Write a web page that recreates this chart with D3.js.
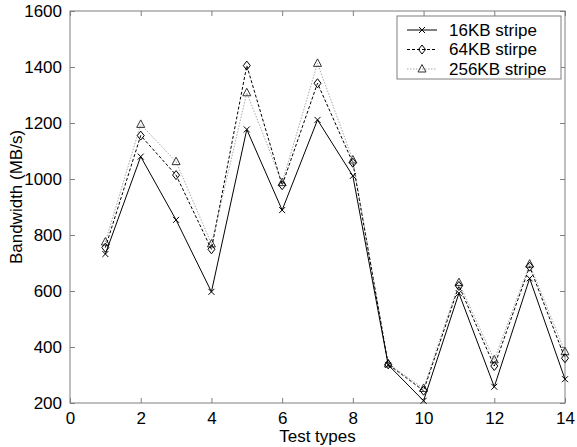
<!DOCTYPE html>
<html>
<head>
<meta charset="utf-8">
<script src="https://cdn.jsdelivr.net/npm/d3@7"></script>
<style>
  body { margin: 0; background: #fff; }
  svg { font-family: "Liberation Sans", Arial, sans-serif; }
</style>
</head>
<body>
<div id="chart"></div>
<script>
// values
const testTypes = [1, 2, 3, 4, 5, 6, 7, 8, 9, 10, 11, 12, 13, 14];
const stripe16 = [732, 1080, 854, 597, 1177, 889, 1211, 1011, 336, 208, 592, 258, 645, 285];
const stripe64 = [755, 1155, 1014, 749, 1405, 978, 1342, 1058, 338, 244, 618, 332, 687, 360];
const stripe256 = [775, 1195, 1062, 768, 1308, 987, 1413, 1068, 340, 252, 630, 354, 696, 383];
const seriesNames = ["16KB stripe", "64KB stirpe", "256KB stripe"];
const xTicks = [0, 2, 4, 6, 8, 10, 12, 14];
const yTicks = [200, 400, 600, 800, 1000, 1200, 1400, 1600];

const config = { width: 577, height: 447, left: 70, right: 565, top: 11, bottom: 403 };
const axisColor = "#7f7f7f";

const svg = d3.select("#chart").append("svg")
    .attr("width", config.width)
    .attr("height", config.height);

const x = d3.scaleLinear().domain([0, 14]).range([config.left, config.right]);
const y = d3.scaleLinear().domain([200, 1600]).range([config.bottom, config.top]);

// box
svg.append("rect")
    .attr("x", config.left).attr("y", config.top)
    .attr("width", config.right - config.left)
    .attr("height", config.bottom - config.top)
    .attr("fill", "none").attr("stroke", axisColor);

// axes, ticks pointing inside like matlab
function styleAxis(g, showText) {
    g.select(".domain").remove();
    g.selectAll(".tick line").attr("stroke", axisColor);
    g.selectAll(".tick text").attr("fill", "#000").style("font-size", "17px");
    if (!showText) g.selectAll(".tick text").remove();
}

svg.append("g").attr("transform", `translate(0,${config.bottom})`)
    .call(d3.axisBottom(x).tickValues(xTicks).tickFormat(d3.format("d")).tickSizeInner(-5).tickSizeOuter(0).tickPadding(9))
    .call(g => styleAxis(g, true));
svg.append("g").attr("transform", `translate(0,${config.top})`)
    .call(d3.axisTop(x).tickValues(xTicks).tickSizeInner(-5).tickSizeOuter(0))
    .call(g => styleAxis(g, false));
svg.append("g").attr("transform", `translate(${config.left},0)`)
    .call(d3.axisLeft(y).tickValues(yTicks).tickFormat(d3.format("d")).tickSizeInner(-5).tickSizeOuter(0).tickPadding(8))
    .call(g => styleAxis(g, true));
svg.append("g").attr("transform", `translate(${config.right},0)`)
    .call(d3.axisRight(y).tickValues(yTicks).tickSizeInner(-5).tickSizeOuter(0))
    .call(g => styleAxis(g, false));

// axis titles
svg.append("text")
    .attr("x", (config.left + config.right) / 2)
    .attr("y", 442)
    .attr("text-anchor", "middle")
    .style("font-size", "17px")
    .text("Test types");

svg.append("text")
    .attr("transform", "translate(22,197) rotate(-90)")
    .attr("text-anchor", "middle")
    .style("font-size", "17px")
    .text("Bandwidth (MB/s)");

// series styles
const series = [
    { name: seriesNames[0], values: stripe16, stroke: "#000", dash: null, marker: "x", mColor: "#000" },
    { name: seriesNames[1], values: stripe64, stroke: "#000", dash: "3,2", marker: "diamond", mColor: "#000" },
    { name: seriesNames[2], values: stripe256, stroke: "#a8a8a8", dash: "1.5,1.5", marker: "triangle", mColor: "#333" }
];

function drawMarker(g, type, cx, cy, color) {
    if (type === "x") {
        g.append("path")
            .attr("d", `M${cx-3},${cy-3}L${cx+3},${cy+3}M${cx-3},${cy+3}L${cx+3},${cy-3}`)
            .attr("stroke", color).attr("stroke-width", 1).attr("fill", "none");
    } else if (type === "diamond") {
        g.append("path")
            .attr("d", `M${cx},${cy-4.5}L${cx+3.5},${cy}L${cx},${cy+4.5}L${cx-3.5},${cy}Z`)
            .attr("stroke", color).attr("stroke-width", 1).attr("fill", "none");
    } else {
        g.append("path")
            .attr("d", `M${cx},${cy-4.5}L${cx+4},${cy+3}L${cx-4},${cy+3}Z`)
            .attr("stroke", color).attr("stroke-width", 1).attr("fill", "none");
    }
}

const line = d3.line()
    .x((d, i) => x(testTypes[i]))
    .y(d => y(d));

// draw back to front
series.slice().reverse().forEach(s => {
    const g = svg.append("g");
    g.append("path")
        .datum(s.values)
        .attr("d", line)
        .attr("fill", "none")
        .attr("stroke", s.stroke)
        .attr("stroke-width", 1)
        .attr("stroke-dasharray", s.dash);
    s.values.forEach((v, i) => drawMarker(g, s.marker, x(testTypes[i]), y(v), s.mColor));
});

// legend
const legend = svg.append("g");
legend.append("rect")
    .attr("x", 397).attr("y", 16)
    .attr("width", 164).attr("height", 63)
    .attr("fill", "#fff").attr("stroke", axisColor);

series.forEach((s, i) => {
    const ly = 30 + i * 19.5;
    legend.append("line")
        .attr("x1", 407).attr("x2", 437)
        .attr("y1", ly).attr("y2", ly)
        .attr("stroke", s.stroke)
        .attr("stroke-dasharray", s.dash);
    drawMarker(legend, s.marker, 422, ly, s.mColor);
    legend.append("text")
        .attr("x", 449).attr("y", ly)
        .attr("dy", "0.35em")
        .style("font-size", "17px")
        .text(s.name);
});
</script>
</body>
</html>
